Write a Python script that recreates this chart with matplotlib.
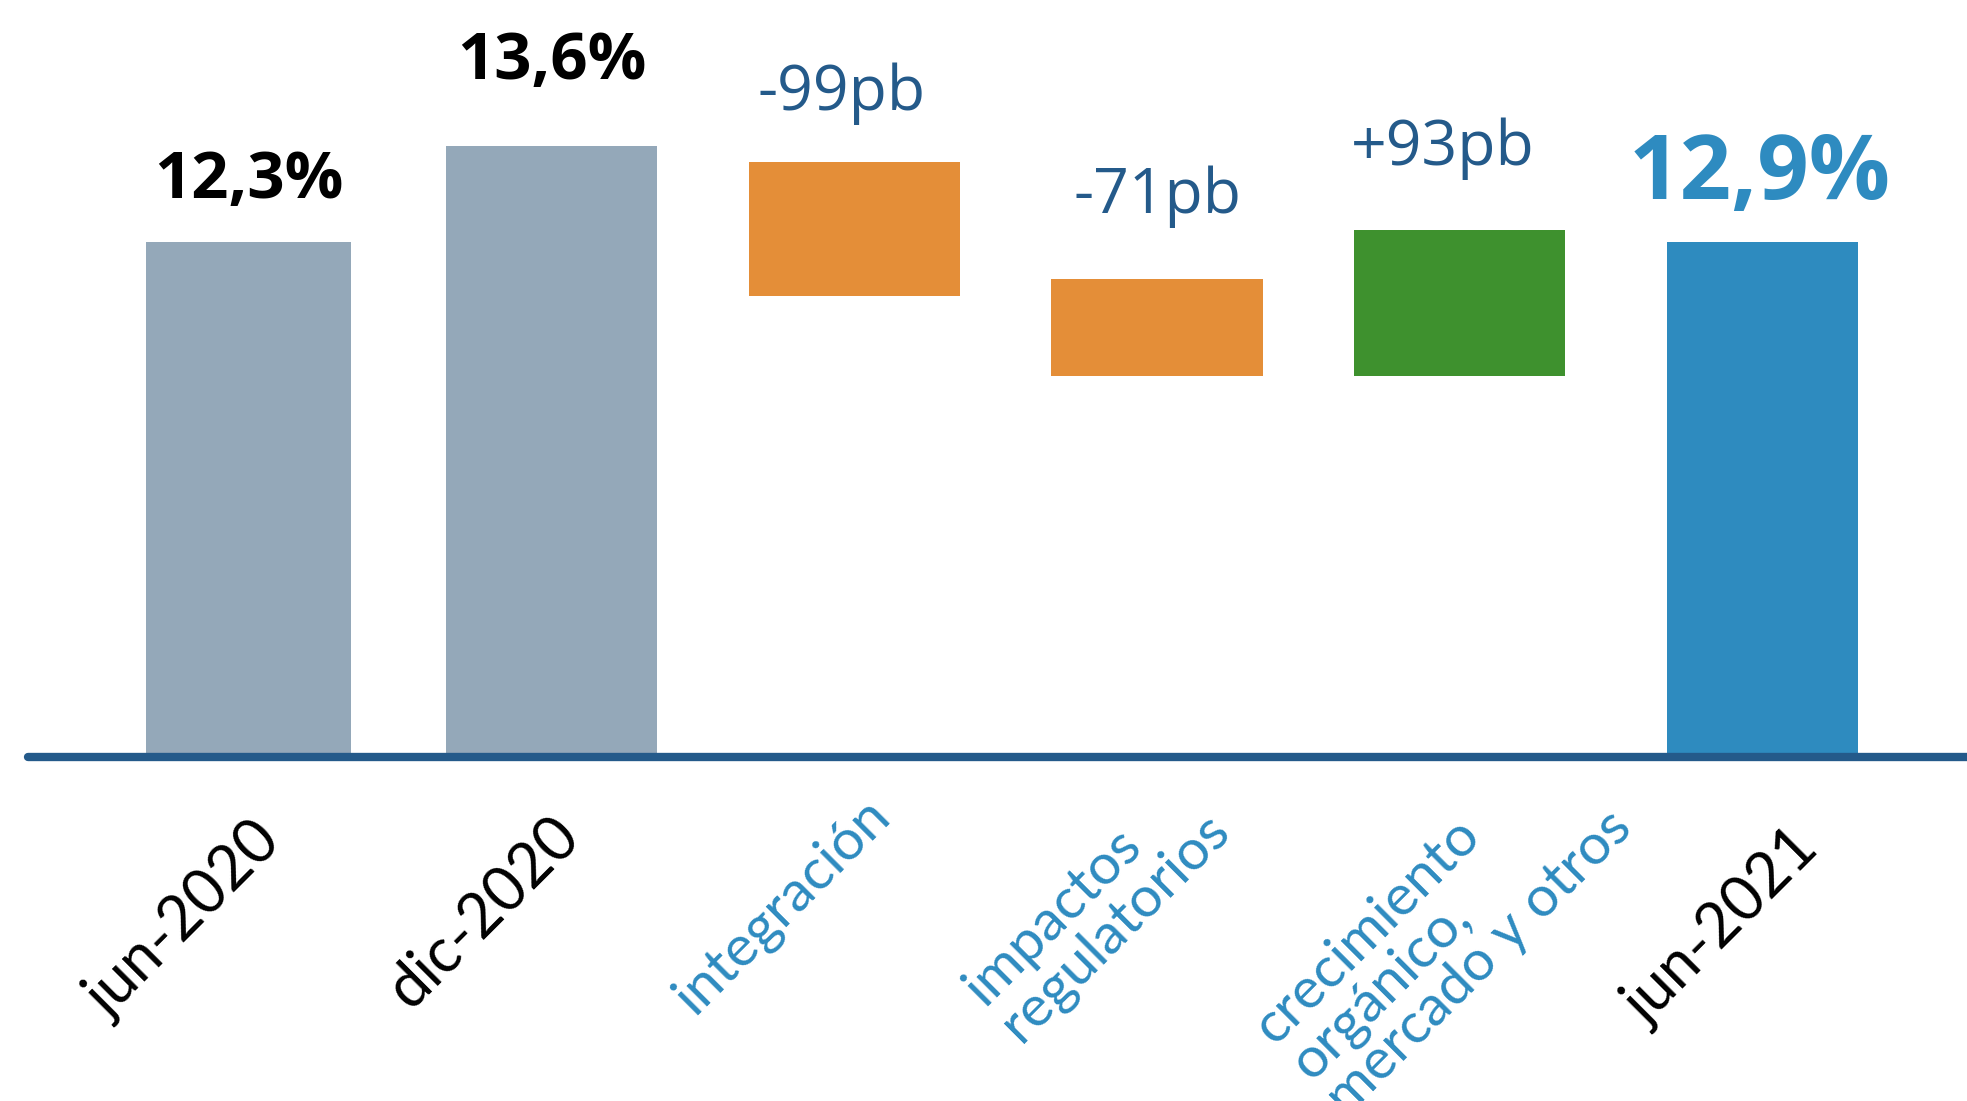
import matplotlib
matplotlib.use("Agg")
import matplotlib.pyplot as plt

# waterfall as drawn in the source (bars are not to scale); heights in drawing units
categories = ["jun-2020", "dic-2020", "integración", "impactos\nregulatorios",
              "crecimiento\norgánico,\nmercado y otros", "jun-2021"]
value_labels = ["12,3%", "13,6%", "-99pb", "-71pb", "+93pb", "12,9%"]
bar_bottom = [0, 0, 46.1, 38.1, 38.1, 0]
bar_top = [51.5, 61.1, 59.5, 47.8, 52.7, 51.5]

bar_colors = ["#94a8b9", "#94a8b9", "#e48e38", "#e48e38", "#3e912e", "#2e8bbf"]
bar_widths = [0.676, 0.698, 0.698, 0.698, 0.698, 0.632]
label_colors = ["#000000", "#000000", "#245a8a", "#245a8a", "#245a8a", "#2e8bc0"]
label_sizes = [47, 47, 45, 45, 45, 65]
label_weights = ["bold", "bold", "normal", "normal", "normal", "bold"]
label_gap = [4.4, 6.7, 5.2, 6.6, 6.5, 4.3]
label_dx = [0, 0, -9, 0, -12, -2]   # points
cat_colors = ["#000000", "#000000", "#2e8bc0", "#2e8bc0", "#2e8bc0", "#000000"]
cat_sizes = [44, 44, 41, 41, 41, 44]
# small nudges of each rotated label, px along / across the text direction
cat_nudge = [(0, 0), (7, -7), (-10, -12), (-13, -26), (-49, -8), (13, 22)]

plt.rcParams["font.family"] = ["Open Sans", "DejaVu Sans"]

W, H = 1967, 1101
fig = plt.figure(figsize=(W / 100, H / 100), dpi=100)
ax = fig.add_axes([28 / W, (H - 757) / H, 1 - 28 / W, 757 / H])

x = list(range(len(categories)))
heights = [t - b for t, b in zip(bar_top, bar_bottom)]
ax.bar(x, heights, bottom=bar_bottom, width=bar_widths, color=bar_colors, linewidth=0)

for i, lab in enumerate(value_labels):
    ax.annotate(lab, xy=(i, bar_top[i] + label_gap[i]), xytext=(label_dx[i], 0),
                textcoords="offset points", ha="center", va="baseline",
                fontsize=label_sizes[i], fontweight=label_weights[i], color=label_colors[i])

# rotated category labels, anchored at the top-left of the first line
for i, cat in enumerate(categories):
    u, v = cat_nudge[i]
    ox = -125 + (u + v) * 0.707 * 0.72
    oy = -166 - (v - u) * 0.707 * 0.72
    ax.annotate(cat, xy=(i, 0), xycoords=("data", "axes fraction"),
                xytext=(ox, oy), textcoords="offset points",
                rotation=45, rotation_mode="anchor", ha="left", va="top",
                multialignment="left", linespacing=1.0,
                family=["Lato", "DejaVu Sans"], fontsize=cat_sizes[i],
                color=cat_colors[i], annotation_clip=False)

ax.set_xlim(-0.7287, 5.675)
ax.set_ylim(0, 75.7)
ax.set_xticks([])
ax.set_yticks([])
for s in ["top", "right", "left"]:
    ax.spines[s].set_visible(False)
ax.spines["bottom"].set_color("#245a8a")
ax.spines["bottom"].set_linewidth(6)
ax.spines["bottom"].set_capstyle("round")
ax.patch.set_alpha(0)

fig.savefig("out.png", dpi=100)
